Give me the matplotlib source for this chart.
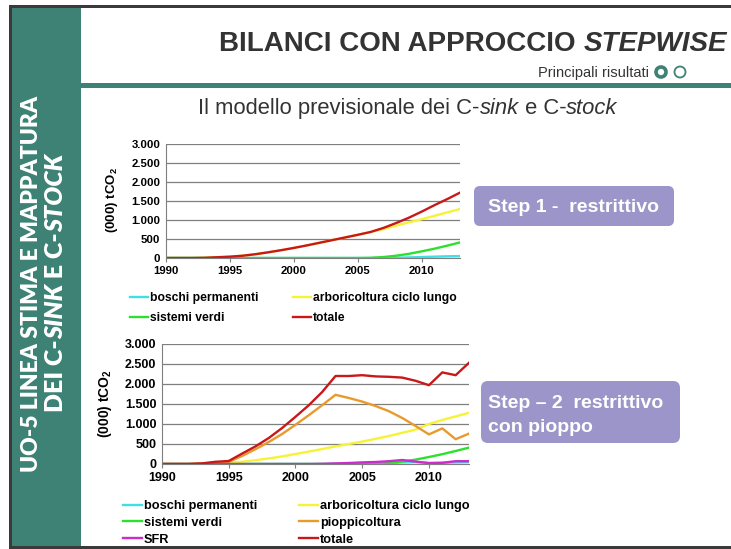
import matplotlib
matplotlib.use("Agg")
import matplotlib.pyplot as plt
from matplotlib.patches import Rectangle, FancyBboxPatch, Circle
from matplotlib.legend import Legend
from matplotlib.ticker import FuncFormatter

plt.rcParams["font.family"] = ["Liberation Sans", "DejaVu Sans"]
plt.rcParams["mathtext.fontset"] = "custom"
plt.rcParams["mathtext.rm"] = "Liberation Sans"
plt.rcParams["mathtext.bf"] = "Liberation Sans:bold"

years = list(range(1990, 2014))

# step 1 - restrittivo
boschi_1 = [0, 0, 0, 0, 0, 0, 0, 0, 0, 0, 0, 0, 0, 0, 0, 0, 0, 5, 10, 15, 25, 35, 45, 50]
arbor_1 = [0, 0, 0, 5, 20, 35, 60, 100, 150, 205, 265, 330, 400, 470, 540, 610, 680, 760, 850, 940, 1020, 1110, 1200, 1290]
verdi_1 = [0, 0, 0, 0, 0, 0, 0, 0, 0, 0, 0, 0, 0, 0, 0, 0, 5, 25, 60, 110, 175, 245, 325, 410]
totale_1 = [0, 0, 0, 5, 20, 35, 60, 100, 150, 205, 265, 330, 400, 470, 540, 610, 685, 790, 920, 1060, 1220, 1390, 1550, 1720]

# step 2 - restrittivo con pioppo
boschi_2 = [0, 0, 0, 0, 0, 0, 0, 0, 0, 0, 0, 0, 0, 0, 0, 0, 10, 20, 40, 50, 20, 30, 40, 50]
arbor_2 = [0, 0, 0, 5, 15, 30, 55, 95, 140, 190, 250, 310, 375, 440, 500, 560, 630, 700, 780, 860, 1000, 1100, 1190, 1280]
verdi_2 = [0, 0, 0, 0, 0, 0, 0, 0, 0, 0, 0, 0, 0, 0, 0, 0, 5, 25, 60, 110, 175, 245, 325, 410]
pioppi_2 = [0, 0, 0, 10, 30, 50, 200, 370, 550, 750, 980, 1220, 1470, 1730, 1650, 1560, 1450, 1320, 1150, 950, 740, 890, 620, 760]
sfr_2 = [0, 0, 0, 0, 0, 0, 0, 0, 0, 0, 0, 0, 5, 15, 25, 40, 50, 70, 100, 60, 25, 30, 70, 70]
totale_2 = [0, 0, 0, 15, 55, 75, 260, 440, 650, 900, 1180, 1470, 1800, 2200, 2200, 2220, 2190, 2180, 2160, 2080, 1970, 2290, 2220, 2530]

GREEN = "#3d8274"
BOX = "#9b95c9"
cols = {"boschi": "#3ee0e6", "arbor": "#f6f236", "verdi": "#2ee02e",
        "pioppi": "#e89a2c", "sfr": "#cc2ccc", "totale": "#c81818"}

fig = plt.figure(figsize=(7.31, 5.49), dpi=100)
bg = fig.add_axes([0, 0, 1, 1])
bg.set_xlim(0, 731)
bg.set_ylim(549, 0)
bg.axis("off")

# slide frame
bg.add_patch(Rectangle((9, 5), 722, 544, fc="#3a3a3a", ec="none"))
bg.add_patch(Rectangle((12, 8), 719, 538, fc="white", ec="none"))
bg.add_patch(Rectangle((12, 8), 69, 538, fc=GREEN, ec="none"))
bg.add_patch(Rectangle((81, 83), 650, 5, fc=GREEN, ec="none"))
bg.add_patch(Circle((661, 72), 5, fill=False, ec=GREEN, lw=2.6))
bg.add_patch(Circle((680, 72), 5.5, fill=False, ec=GREEN, lw=1.3))

renderer = fig.canvas.get_renderer()


def rich(x, y, parts, ha="left", rot=0, **kw):
    def width(s, st):
        t = bg.text(0, 0, s, style=st, **kw)
        v = t.get_window_extent(renderer).width
        t.remove()
        return v
    widths = [width(s + "|", st) - width("|", st) for s, st in parts]
    pos = {"left": 0, "center": -sum(widths) / 2, "right": -sum(widths)}[ha]
    for (s, st), w in zip(parts, widths):
        if rot == 0:
            bg.text(x + pos, y, s, style=st, ha="left", va="baseline", **kw)
        else:
            bg.text(x, y - pos, s, style=st, rotation=90, rotation_mode="anchor",
                    ha="left", va="baseline", **kw)
        pos += w


rich(727, 51, [("BILANCI CON APPROCCIO ", "normal"), ("STEPWISE", "italic")],
     ha="right", fontsize=20, fontweight="bold", color="#333333")
bg.text(649, 77, "Principali risultati", ha="right", va="baseline", fontsize=10.5, color="#333333")
rich(408, 114, [("Il modello previsionale dei C-", "normal"), ("sink", "italic"),
                (" e C-", "normal"), ("stock", "italic")],
     ha="center", fontsize=15.8, color="#333333")

band = dict(fontweight="heavy", color="white", family=["Lato", "DejaVu Sans"])
rich(38, 284, [("UO-5 LINEA STIMA E MAPPATURA", "normal")], ha="center", rot=90, fontsize=16.5, **band)
rich(63, 283, [("DEI C-", "normal"), ("SINK", "italic"), (" E C-", "normal"), ("STOCK", "italic")],
     ha="center", rot=90, fontsize=18, **band)

# step boxes
box_txt = dict(ha="left", va="center", fontsize=14, fontweight="bold", color="white")
bg.add_patch(FancyBboxPatch((474, 186), 200, 40, boxstyle="round,pad=0,rounding_size=6", fc=BOX, ec="none"))
bg.text(488, 207, "Step 1 -  restrittivo", **box_txt)
bg.add_patch(FancyBboxPatch((481, 381), 199, 62, boxstyle="round,pad=0,rounding_size=7", fc=BOX, ec="none"))
bg.text(488, 403, "Step \u2013 2  restrittivo", **box_txt)
bg.text(488, 428, "con pioppo", **box_txt)

fmt = FuncFormatter(lambda v, p: f"{v:,.0f}".replace(",", "."))


def style_axes(ax, size):
    ax.set_xlim(1990, 2013)
    ax.set_ylim(0, 3000)
    ax.set_yticks(range(0, 3001, 500))
    ax.set_xticks([1990, 1995, 2000, 2005, 2010])
    ax.yaxis.set_major_formatter(fmt)
    ax.grid(axis="y", color="#7f7f7f", lw=0.9)
    ax.set_axisbelow(True)
    for s in ("top", "right"):
        ax.spines[s].set_visible(False)
    for s in ("left", "bottom"):
        ax.spines[s].set_color("#7f7f7f")
    ax.tick_params(axis="y", length=0, pad=4, labelsize=size)
    ax.tick_params(axis="x", length=3, color="#7f7f7f", pad=3, labelsize=size)
    for lab in ax.get_xticklabels() + ax.get_yticklabels():
        lab.set_fontweight("bold")
    ax.patch.set_alpha(0)


lw = 1.7
ax1 = fig.add_axes([166 / 731, 1 - 258 / 549, 294 / 731, 114 / 549])
l1 = {}
l1["boschi"], = ax1.plot(years, boschi_1, color=cols["boschi"], lw=lw)
l1["arbor"], = ax1.plot(years, arbor_1, color=cols["arbor"], lw=lw)
l1["verdi"], = ax1.plot(years, verdi_1, color=cols["verdi"], lw=lw)
l1["totale"], = ax1.plot(years, totale_1, color=cols["totale"], lw=lw)
style_axes(ax1, 8.2)

ax2 = fig.add_axes([162 / 731, 1 - 464 / 549, 307 / 731, 120 / 549])
l2 = {}
l2["boschi"], = ax2.plot(years, boschi_2, color=cols["boschi"], lw=lw)
l2["arbor"], = ax2.plot(years, arbor_2, color=cols["arbor"], lw=lw)
l2["verdi"], = ax2.plot(years, verdi_2, color=cols["verdi"], lw=lw)
l2["pioppi"], = ax2.plot(years, pioppi_2, color=cols["pioppi"], lw=lw)
l2["sfr"], = ax2.plot(years, sfr_2, color=cols["sfr"], lw=lw)
l2["totale"], = ax2.plot(years, totale_2, color=cols["totale"], lw=lw)
style_axes(ax2, 9)

ylab = "(000) tCO$_\\mathbf{2}$"
bg.text(112, 200, ylab, rotation=90, ha="center", va="center", fontsize=9.5, fontweight="bold")
bg.text(105, 404, ylab, rotation=90, ha="center", va="center", fontsize=10, fontweight="bold")

names = {"boschi": "boschi permanenti", "arbor": "arboricoltura ciclo lungo", "verdi": "sistemi verdi",
         "pioppi": "pioppicoltura", "sfr": "SFR", "totale": "totale"}


def legend_col(lines, keys, x, y, spacing, size):
    lg = Legend(bg, [lines[k] for k in keys], [names[k] for k in keys], loc="upper left",
                bbox_to_anchor=(x, y), bbox_transform=bg.transData, frameon=False,
                borderpad=0, borderaxespad=0, handlelength=1.5, handletextpad=0.15,
                labelspacing=spacing, prop={"weight": "bold", "size": size})
    bg.add_artist(lg)


legend_col(l1, ["boschi", "verdi"], 130, 292, 0.65, 8.7)
legend_col(l1, ["arbor", "totale"], 293, 292, 0.65, 8.7)
legend_col(l2, ["boschi", "verdi", "sfr"], 123, 500, 0.38, 9.2)
legend_col(l2, ["arbor", "pioppi", "totale"], 299, 500, 0.38, 9.2)

fig.savefig("out.png", dpi=100)
